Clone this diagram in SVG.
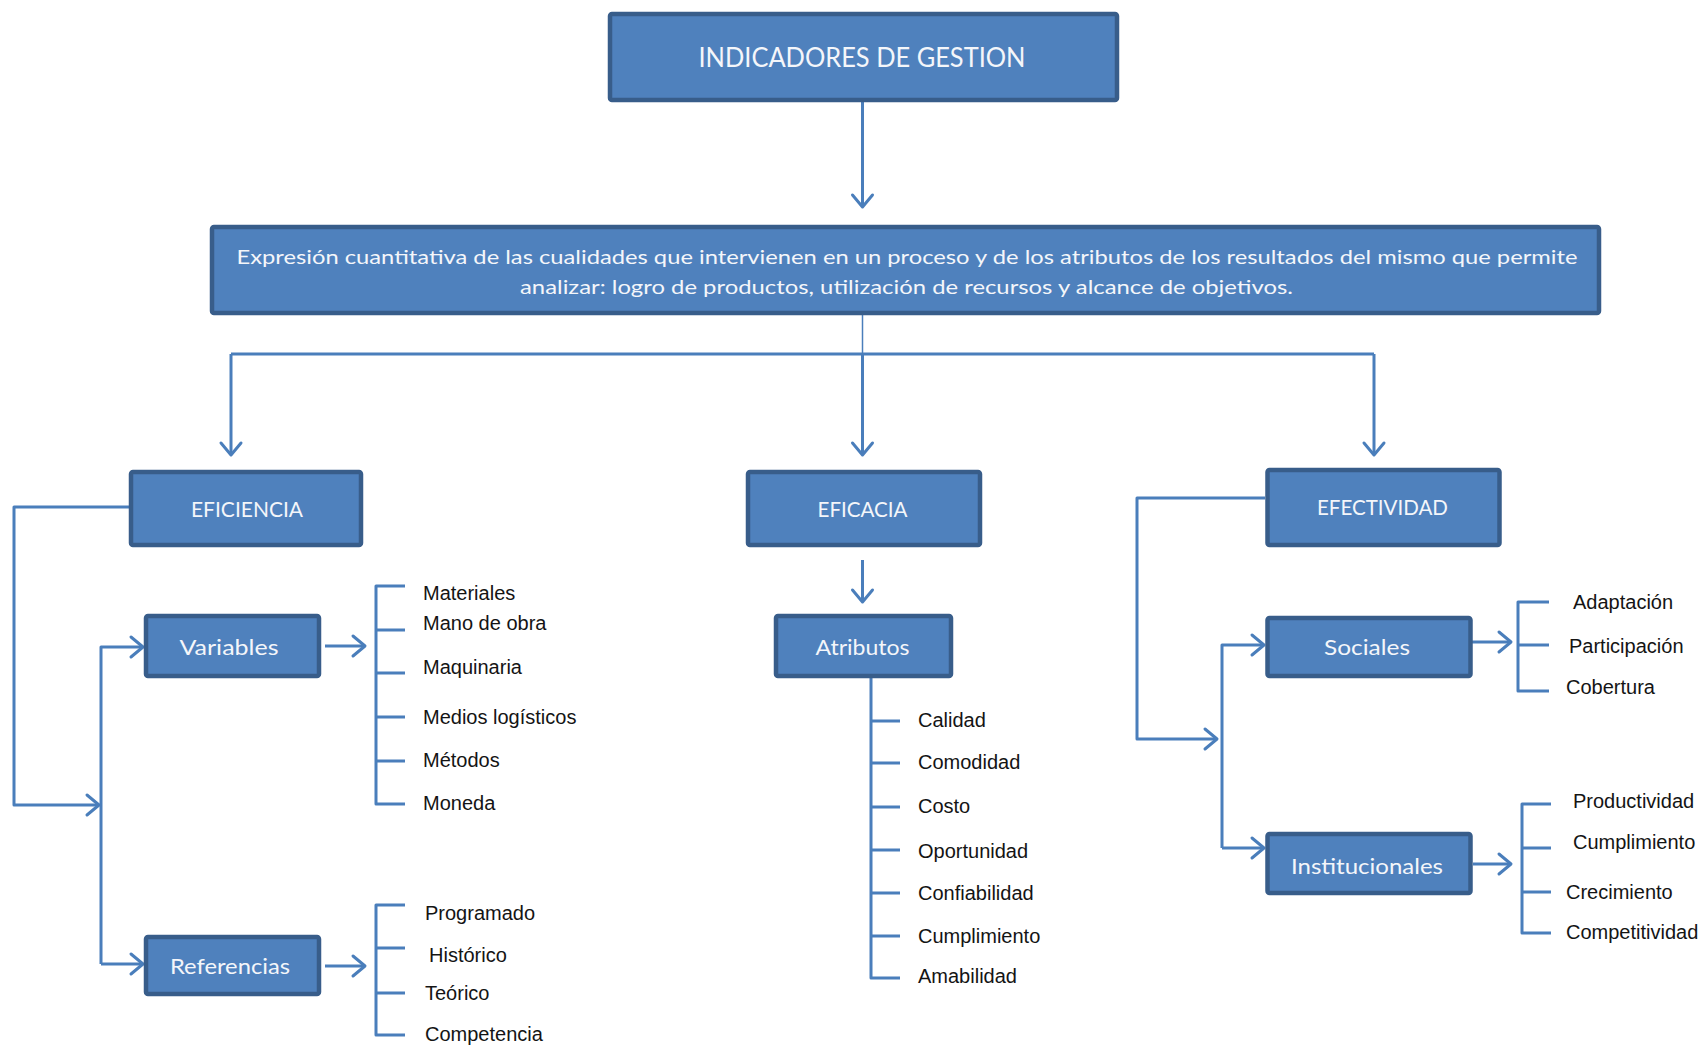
<svg xmlns="http://www.w3.org/2000/svg" width="1699" height="1046" viewBox="0 0 1699 1046">
  <style>
    .box { fill: #4F81BD; stroke: #385D8A; stroke-width: 4.5; }
    .lbl { font-family: Lato, "Open Sans", "Liberation Sans", sans-serif; fill: #F4F6FA; text-anchor: middle; }
    .item { font-family: "Liberation Sans", Arial, sans-serif; font-size: 20px; fill: #141414; }
    .wire { fill: none; stroke: #4A7EBB; stroke-width: 3; stroke-linejoin: round; }
    .thin { fill: none; stroke: #4A7EBB; stroke-width: 1.5; }
    .arr { marker-end: url(#chev); }
  </style>
  <defs>
    <marker id="chev" viewBox="-15 -13 18 26" markerWidth="18" markerHeight="26" refX="0" refY="0" orient="auto" markerUnits="userSpaceOnUse">
      <path d="M-12,-10 L0,0 L-12,10" fill="none" stroke="#4A7EBB" stroke-width="3" stroke-linejoin="round" stroke-linecap="round"/>
    </marker>
  </defs>
  <rect width="1699" height="1046" fill="#FFFFFF"/>

  <!-- connectors -->
  <g id="connectors">
    <path class="wire arr" d="M862.5,102 V207"/>
    <path class="thin" d="M862.5,315 V354"/>
    <path class="wire" d="M231,354 H1374"/>
    <path class="wire arr" d="M231,354 V455"/>
    <path class="wire arr" d="M862.5,354 V455"/>
    <path class="wire arr" d="M1374,354 V455"/>

    <!-- eficiencia branch -->
    <path class="wire arr" d="M129,507 H14 V805 H99"/>
    <path class="wire arr" d="M101,964 V647 H143"/>
    <path class="wire arr" d="M101,964 H143"/>
    <path class="wire arr" d="M325,646 H365"/>
    <path class="wire arr" d="M325,966 H365"/>
    <path class="wire" d="M405,586 H376 V804 H405 M376,630 H405 M376,673 H405 M376,717 H405 M376,761 H405"/>
    <path class="wire" d="M405,905 H376 V1035 H405 M376,948 H405 M376,993 H405"/>

    <!-- eficacia branch -->
    <path class="wire arr" d="M862.5,560 V602"/>
    <path class="wire" d="M871,677 V978 H900 M871,721 H900 M871,763 H900 M871,807 H900 M871,850 H900 M871,893 H900 M871,936 H900"/>

    <!-- efectividad branch -->
    <path class="wire arr" d="M1265,498 H1137 V739 H1217"/>
    <path class="wire arr" d="M1222,848 V645 H1264"/>
    <path class="wire arr" d="M1222,848 H1264"/>
    <path class="wire arr" d="M1471,642 H1511"/>
    <path class="wire arr" d="M1473,864 H1511"/>
    <path class="wire" d="M1549,602 H1518 V691 H1549 M1518,645 H1549"/>
    <path class="wire" d="M1551,804 H1522 V933 H1551 M1522,848 H1551 M1522,892 H1551"/>
  </g>

  <!-- nodes -->
  <g id="indicadores">
    <rect class="box" x="610" y="14" width="507" height="86" rx="2"/>
    <text class="lbl" x="862" y="67" font-size="26" textLength="327" lengthAdjust="spacingAndGlyphs">INDICADORES DE GESTION</text>
  </g>
  <g id="definicion">
    <rect class="box" x="212" y="227" width="1387" height="86" rx="2"/>
    <text class="lbl" x="907" y="264" font-size="20" textLength="1341" lengthAdjust="spacingAndGlyphs">Expresión cuantitativa de las cualidades que intervienen en  un proceso y de  los atributos de los resultados del mismo que  permite</text>
    <text class="lbl" x="906.5" y="294" font-size="20" textLength="773" lengthAdjust="spacingAndGlyphs">analizar: logro de productos, utilización de recursos y alcance de objetivos.</text>
  </g>
  <g id="eficiencia">
    <rect class="box" x="131" y="472" width="230" height="73" rx="2"/>
    <text class="lbl" x="247" y="517" font-size="21" textLength="112" lengthAdjust="spacingAndGlyphs">EFICIENCIA</text>
  </g>
  <g id="eficacia">
    <rect class="box" x="748" y="472" width="232" height="73" rx="2"/>
    <text class="lbl" x="862.5" y="517" font-size="21" textLength="90" lengthAdjust="spacingAndGlyphs">EFICACIA</text>
  </g>
  <g id="efectividad">
    <rect class="box" x="1267.5" y="470" width="232" height="75" rx="2"/>
    <text class="lbl" x="1382.5" y="515" font-size="21" textLength="131" lengthAdjust="spacingAndGlyphs">EFECTIVIDAD</text>
  </g>
  <g id="variables">
    <rect class="box" x="146" y="616" width="173" height="60" rx="2"/>
    <text class="lbl" x="229" y="655" font-size="22" textLength="99" lengthAdjust="spacingAndGlyphs">Variables</text>
  </g>
  <g id="referencias">
    <rect class="box" x="146" y="937" width="173" height="57" rx="2"/>
    <text class="lbl" x="230" y="974" font-size="22" textLength="120" lengthAdjust="spacingAndGlyphs">Referencias</text>
  </g>
  <g id="atributos">
    <rect class="box" x="776" y="616" width="175" height="60" rx="2"/>
    <text class="lbl" x="862.5" y="655" font-size="22" textLength="94" lengthAdjust="spacingAndGlyphs">Atributos</text>
  </g>
  <g id="sociales">
    <rect class="box" x="1267.5" y="618" width="203" height="58" rx="2"/>
    <text class="lbl" x="1367" y="655" font-size="22" textLength="86" lengthAdjust="spacingAndGlyphs">Sociales</text>
  </g>
  <g id="institucionales">
    <rect class="box" x="1267.5" y="834" width="203" height="59" rx="2"/>
    <text class="lbl" x="1367" y="874" font-size="22" textLength="152" lengthAdjust="spacingAndGlyphs">Institucionales</text>
  </g>

  <!-- item lists -->
  <g id="variables-items">
    <text class="item" x="423" y="600">Materiales</text>
    <text class="item" x="423" y="630">Mano de obra</text>
    <text class="item" x="423" y="674">Maquinaria</text>
    <text class="item" x="423" y="724">Medios logísticos</text>
    <text class="item" x="423" y="767">Métodos</text>
    <text class="item" x="423" y="810">Moneda</text>
  </g>
  <g id="referencias-items">
    <text class="item" x="425" y="920">Programado</text>
    <text class="item" x="429" y="962">Histórico</text>
    <text class="item" x="425" y="1000">Teórico</text>
    <text class="item" x="425" y="1041">Competencia</text>
  </g>
  <g id="atributos-items">
    <text class="item" x="918" y="727">Calidad</text>
    <text class="item" x="918" y="769">Comodidad</text>
    <text class="item" x="918" y="813">Costo</text>
    <text class="item" x="918" y="858">Oportunidad</text>
    <text class="item" x="918" y="900">Confiabilidad</text>
    <text class="item" x="918" y="943">Cumplimiento</text>
    <text class="item" x="918" y="983">Amabilidad</text>
  </g>
  <g id="sociales-items">
    <text class="item" x="1573" y="609">Adaptación</text>
    <text class="item" x="1569" y="653">Participación</text>
    <text class="item" x="1566" y="694">Cobertura</text>
  </g>
  <g id="institucionales-items">
    <text class="item" x="1573" y="808" font-size="19.5">Productividad</text>
    <text class="item" x="1573" y="849" font-size="19.5">Cumplimiento</text>
    <text class="item" x="1566" y="899" font-size="19.5">Crecimiento</text>
    <text class="item" x="1566" y="939" font-size="19.5">Competitividad</text>
  </g>
</svg>
